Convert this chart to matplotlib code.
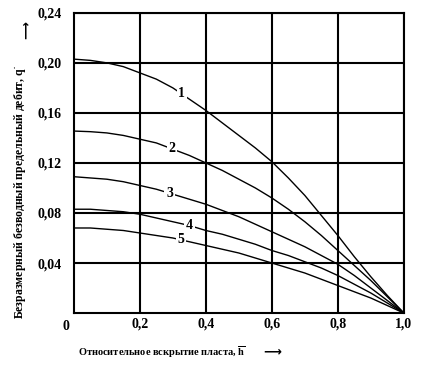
import matplotlib
matplotlib.use("Agg")
import matplotlib.pyplot as plt
import numpy as np

plt.rcParams['font.family'] = ['Liberation Serif', 'DejaVu Serif']
plt.rcParams['font.weight'] = 'bold'
plt.rcParams['mathtext.fontset'] = 'custom'
plt.rcParams['mathtext.rm'] = 'Liberation Serif:bold'
plt.rcParams['mathtext.bf'] = 'Liberation Serif:bold'
plt.rcParams['mathtext.it'] = 'Liberation Serif:bold'

# relative opening h, 0..1, step 0.05
h = [0.00, 0.05, 0.10, 0.15, 0.20, 0.25, 0.30, 0.35, 0.40, 0.45, 0.50,
     0.55, 0.60, 0.65, 0.70, 0.75, 0.80, 0.85, 0.90, 0.95, 1.00]
q1 = [0.203, 0.202, 0.200, 0.197, 0.192, 0.187, 0.180, 0.171, 0.162, 0.152, 0.142,
      0.132, 0.121, 0.108, 0.094, 0.078, 0.062, 0.045, 0.029, 0.014, 0.0]
q2 = [0.1455, 0.145, 0.144, 0.142, 0.139, 0.136, 0.131, 0.126, 0.120, 0.114, 0.107,
      0.100, 0.092, 0.083, 0.073, 0.062, 0.050, 0.038, 0.026, 0.013, 0.0]
q3 = [0.109, 0.108, 0.107, 0.105, 0.102, 0.099, 0.095, 0.091, 0.087, 0.082, 0.077,
      0.071, 0.065, 0.059, 0.053, 0.046, 0.039, 0.030, 0.020, 0.010, 0.0]
q4 = [0.083, 0.083, 0.082, 0.081, 0.079, 0.076, 0.073, 0.070, 0.066, 0.063, 0.059,
      0.055, 0.050, 0.046, 0.041, 0.036, 0.030, 0.023, 0.016, 0.008, 0.0]
q5 = [0.068, 0.068, 0.067, 0.066, 0.064, 0.062, 0.060, 0.057, 0.054, 0.051, 0.048,
      0.044, 0.040, 0.036, 0.032, 0.027, 0.022, 0.017, 0.012, 0.006, 0.0]
curves = [q1, q2, q3, q4, q5]
names = ['1', '2', '3', '4', '5']
label_x = [0.327, 0.297, 0.29, 0.35, 0.325]

xticks = [0.2, 0.4, 0.6, 0.8, 1.0]
xtick_labels = ['0,2', '0,4', '0,6', '0,8', '1,0']
yticks = [0.04, 0.08, 0.12, 0.16, 0.20, 0.24]
ytick_labels = ['0,04', '0,08', '0,12', '0,16', '0,20', '0,24']

fig = plt.figure(figsize=(4.22, 3.67), dpi=100)
ax = fig.add_axes([0.175, 0.147, 0.782, 0.818])

for q, name, lx in zip(curves, names, label_x):
    ax.plot(h, q, color='black', lw=1.0, zorder=3)
    ly = np.interp(lx, h, q)
    ax.text(lx, ly, name, ha='center', va='center', fontsize=10,
            bbox=dict(facecolor='white', edgecolor='none', pad=1.2), zorder=4)

ax.set_xlim(0, 1.0)
ax.set_ylim(0, 0.24)
ax.set_xticks(xticks)
ax.set_xticklabels(xtick_labels, fontsize=10, fontweight='bold')
ax.set_yticks(yticks)
ax.set_yticklabels(ytick_labels, fontsize=10, fontweight='bold')
ax.tick_params(axis='x', length=0, pad=3)
ax.tick_params(axis='y', length=0, pad=9)
ax.grid(True, color='black', lw=1.5, zorder=1)
for s in ax.spines.values():
    s.set_linewidth(1.5)

fig.text(66 / 422, 1 - 327 / 367, '0', ha='center', va='center', fontsize=10, fontweight='bold')

fig.text(162 / 422, 1 - 352 / 367, 'Относительное вскрытие пласта, $\\overline{\\mathbf{h}}$',
         ha='center', va='center', fontsize=7.5, fontweight='bold')
fig.text(272 / 422, 1 - 352 / 367, '⟶', ha='center', va='center', fontsize=9,
         family=['DejaVu Sans'])

fig.text(20 / 422, 1 - 192 / 367, 'Безразмерный безводный предельный дебит, q$^{\\bullet}$',
         ha='center', va='center', rotation=90, fontsize=8.5, fontweight='bold')
fig.text(26 / 422, 1 - 30 / 367, '⟶', ha='center', va='center', rotation=90, fontsize=9,
         family=['DejaVu Sans'])

fig.savefig('out.png', dpi=100)
